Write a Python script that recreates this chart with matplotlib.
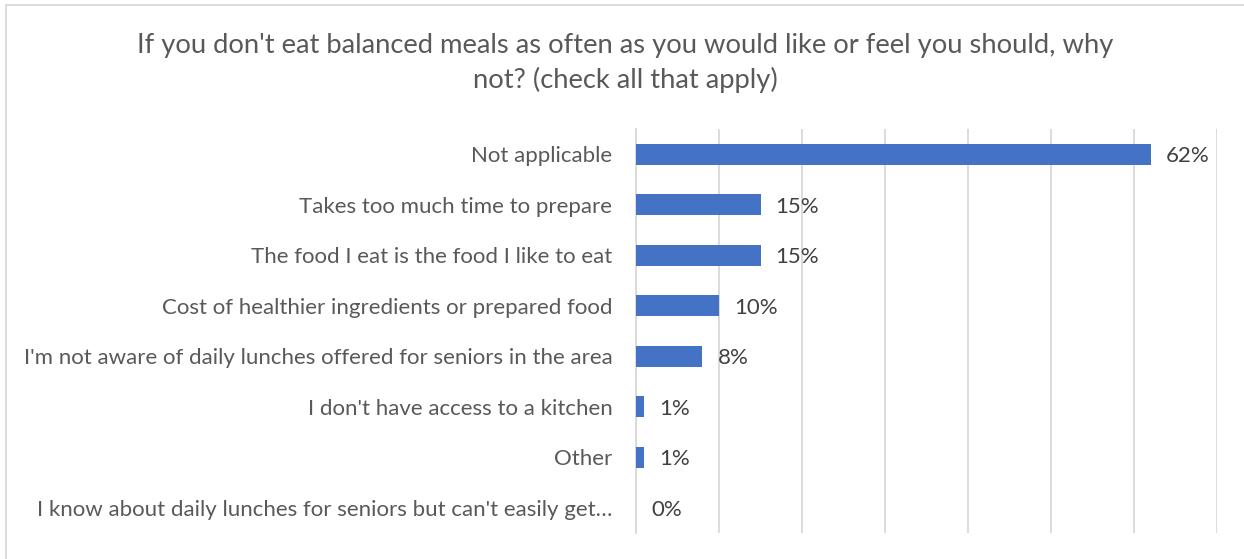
import matplotlib
matplotlib.use("Agg")
import matplotlib.pyplot as plt
from matplotlib.patches import Rectangle

# data (top to bottom as in the chart)
categories = [
    "Not applicable",
    "Takes too much time to prepare",
    "The food I eat is the food I like to eat",
    "Cost of healthier ingredients or prepared food",
    "I'm not aware of daily lunches offered for seniors in the area",
    "I don't have access to a kitchen",
    "Other",
    "I know about daily lunches for seniors but can't easily get\u2026",
]
values = [62, 15, 15, 10, 8, 1, 1, 0]
value_labels = ["62%", "15%", "15%", "10%", "8%", "1%", "1%", "0%"]
title = "If you don't eat balanced meals as often as you would like or feel you should, why\nnot? (check all that apply)"

plt.rcParams['font.family'] = ['Lato', 'DejaVu Sans']
text_color = "#595959"
bar_color = "#4472C4"
grid_color = "#D9D9D9"

W, H = 1244, 559
fig = plt.figure(figsize=(W / 100, H / 100), dpi=100)
ax = fig.add_axes([636 / W, 1 - 533 / H, (1217 - 636) / W, (533 - 129) / H])

y = list(range(len(categories)))
ax.barh(y, values, height=0.41, color=bar_color, zorder=3)
ax.set_ylim(len(categories) - 0.5, -0.5)
ax.set_xlim(0, 70)
ax.set_xticks(range(0, 71, 10))
ax.set_xticklabels([])
ax.tick_params(axis="x", length=0)
ax.grid(axis="x", color=grid_color, linewidth=1.3, zorder=0)

ax.set_yticks(y)
ax.set_yticklabels(categories, fontsize=16, color=text_color)
ax.tick_params(axis="y", length=0, pad=17)

for s in ["top", "right", "bottom"]:
    ax.spines[s].set_visible(False)
ax.spines["left"].set_color(grid_color)
ax.spines["left"].set_linewidth(1.3)

for yi, v, lab in zip(y, values, value_labels):
    ax.annotate(lab, (v, yi), xytext=(15, -2), textcoords="offset pixels",
                va="center", ha="left", fontsize=16, color="#404040")

fig.text(625 / W, 1 - 63 / H, title, ha="center", va="center", fontsize=19.7,
         color=text_color, linespacing=1.45)

# outer chart border
fig.patches.append(Rectangle((6 / W, -0.05), 1.1, 1 - 4.5 / H + 0.05, transform=fig.transFigure,
                             fill=False, edgecolor=grid_color, linewidth=1.3))

fig.savefig("out.png", dpi=100)
